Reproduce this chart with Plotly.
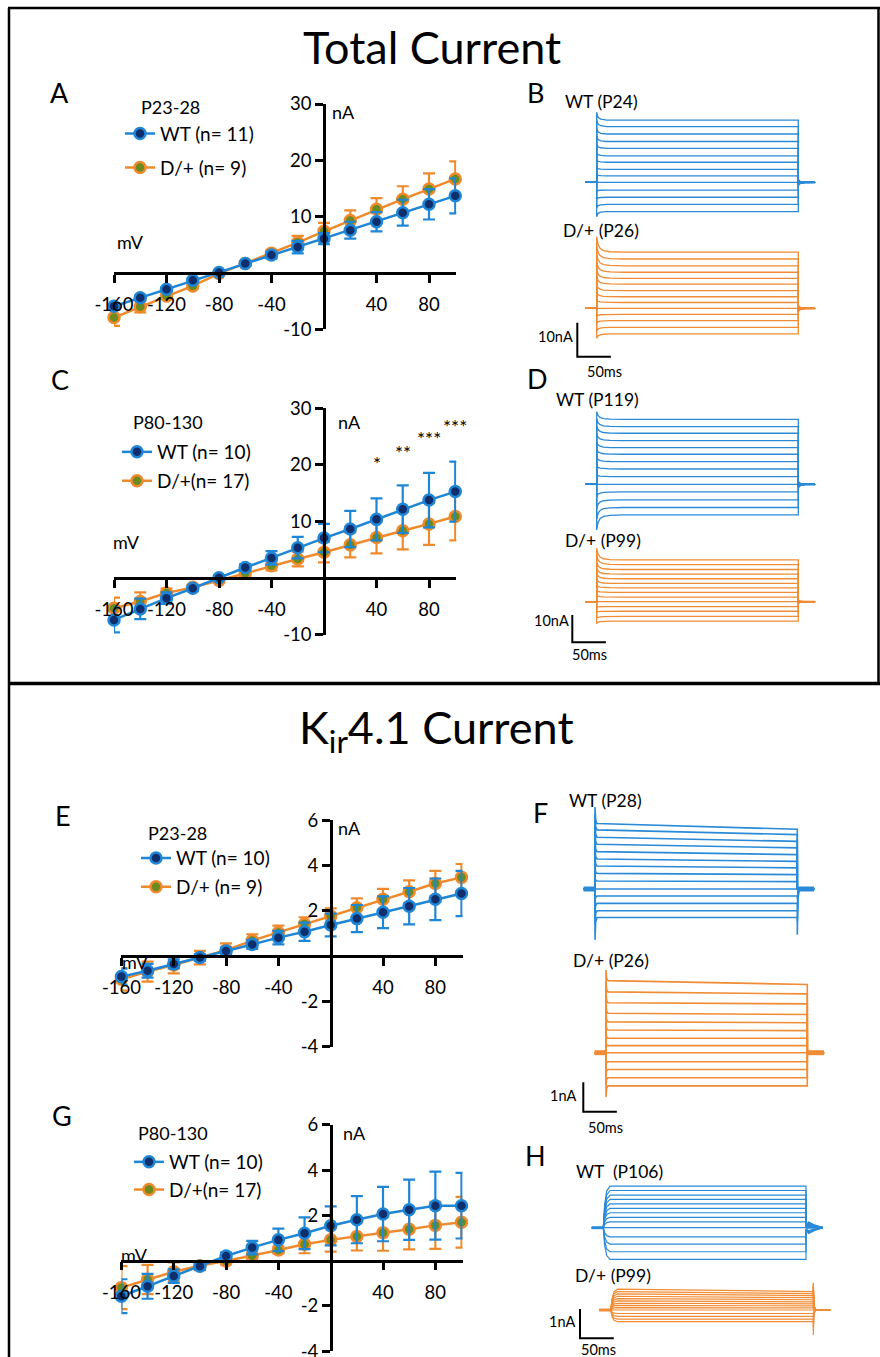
import plotly.graph_objects as go

W, H = 880, 1357

# ---------------- I-V data (mV, nA) ----------------
VOLTAGES = [-160, -140, -120, -100, -80, -60, -40, -20, 0, 20, 40, 60, 80, 100]

A_WT = [-5.9, -4.4, -2.9, -1.3, 0.1, 1.7, 3.2, 4.6, 6.1, 7.6, 9.1, 10.7, 12.2, 13.7]
A_WT_ERR = [0.5, 0.4, 0.4, 0.3, 0.3, 0.4, 0.6, 1.1, 1.0, 1.5, 1.7, 2.3, 2.7, 3.1]
A_DP = [-7.9, -6.0, -4.1, -2.3, -0.1, 1.7, 3.5, 5.4, 7.4, 9.3, 11.3, 13.1, 14.9, 16.7]
A_DP_ERR = [1.5, 1.0, 0.5, 0.4, 0.3, 0.4, 0.6, 1.2, 1.5, 1.8, 2.0, 2.3, 2.8, 3.1]

C_WT = [-7.35, -5.4, -3.5, -1.76, 0.1, 1.9, 3.6, 5.4, 7.1, 8.7, 10.4, 12.2, 13.8, 15.3]
C_WT_ERR = [2.2, 1.8, 1.0, 0.5, 0.4, 0.6, 1.2, 1.9, 2.5, 3.2, 3.7, 4.2, 4.8, 5.3]
C_DP = [-5.3, -4.1, -2.6, -1.6, -0.4, 0.9, 2.2, 3.4, 4.6, 5.9, 7.2, 8.4, 9.6, 10.9]
C_DP_ERR = [1.9, 1.6, 0.8, 0.5, 0.4, 0.5, 0.8, 1.3, 1.8, 2.2, 2.8, 3.3, 3.7, 4.2]

E_WT = [-0.91, -0.65, -0.35, -0.07, 0.22, 0.51, 0.81, 1.07, 1.37, 1.65, 1.93, 2.2, 2.5, 2.76]
E_WT_ERR = [0.35, 0.3, 0.2, 0.15, 0.15, 0.2, 0.3, 0.4, 0.5, 0.6, 0.7, 0.8, 0.92, 1.0]
E_DP = [-1.03, -0.69, -0.4, -0.07, 0.26, 0.68, 1.04, 1.41, 1.76, 2.13, 2.5, 2.84, 3.2, 3.47]
E_DP_ERR = [0.5, 0.44, 0.37, 0.3, 0.3, 0.28, 0.3, 0.3, 0.34, 0.41, 0.46, 0.5, 0.56, 0.59]

G_WT = [-1.57, -1.13, -0.68, -0.24, 0.21, 0.58, 0.92, 1.21, 1.54, 1.81, 2.06, 2.25, 2.43, 2.43]
G_WT_ERR = [0.75, 0.55, 0.3, 0.15, 0.15, 0.3, 0.5, 0.7, 0.86, 1.04, 1.2, 1.33, 1.5, 1.45]
G_DP = [-1.19, -0.83, -0.49, -0.22, -0.01, 0.22, 0.47, 0.73, 0.92, 1.07, 1.24, 1.39, 1.56, 1.7]
G_DP_ERR = [0.95, 0.65, 0.42, 0.2, 0.15, 0.15, 0.15, 0.4, 0.52, 0.62, 0.8, 0.89, 1.04, 1.12]

IV_XTICKS = [-160, -120, -80, -40, 40, 80]
TOTAL_YTICKS = [-10, 10, 20, 30]
KIR_YTICKS = [-4, -2, 2, 4, 6]

STAR_V = [40, 60, 80, 100]
STAR_I = [20.9, 22.9, 25.3, 27.5]
STAR_TEXT = ["*", "**", "***", "***"]

# ---------------- example sweeps (ms, nA relative to holding) ----------------
STEP_MS = 300
PRE_MS = -17
POST_MS = 25
SCALE_MS = 50

# transient shapes (time after edge in ms, remaining fraction)
FAST_T = [0, 1, 3]
FAST_W = [1, 0.2, 0]
HOOK_T = [0, 2, 6, 15]
HOOK_W = [1, 0.35, 0.12, 0]
CAP_T = [0, 2, 5, 10, 20, 40]
CAP_W = [1, 0.5, 0.25, 0.1, 0.03, 0]
ACT_T = [0, 2, 5, 10]
ACT_W = [1, 0.45, 0.12, 0]
TAIL_T = [0, 3, 10]
TAIL_W = [1, 0.3, 0]
SPINDLE_T = [0, 4, 12, 23]
SPINDLE_W = [0.4, 1, 0.5, 0]

B_WT_LEVEL = [-8.6, -6.5, -4.4, -2.3, 0.0, 1.9, 3.8, 5.9, 7.8, 10.0, 12.0, 14.2, 16.4, 18.3]
B_WT_PEAK = [-10.1, -7.5, -5.0, -2.6, 0.0, 2.2, 4.4, 6.7, 8.8, 11.3, 13.6, 16.0, 18.4, 20.6]
B_WT_OFF = [0.8, 0.6, 0.4, 0.2, 0.0, -0.2, -0.3, -0.4, -0.5, -0.6, -0.7, -0.8, -0.9, -1.0]

B_DP_LEVEL = [-7.5, -5.6, -3.6, -1.8, 0.0, 1.7, 3.4, 5.2, 7.1, 8.8, 10.6, 12.5, 14.5, 16.5]
B_DP_PEAK = [-8.8, -6.6, -4.4, -2.2, 0.0, 2.4, 4.6, 6.9, 9.2, 11.4, 13.7, 16.0, 18.5, 21.1]
B_DP_OFF = [0.9, 0.7, 0.5, 0.2, 0.0, -0.2, -0.3, -0.4, -0.5, -0.6, -0.7, -0.8, -0.9, -1.0]

D_WT_LEVEL = [-11.2, -8.5, -5.7, -2.8, 0.0, 2.8, 5.6, 8.3, 11.0, 13.4, 16.0, 18.7, 21.1, 23.8]
D_WT_PEAK = [-16.7, -12.8, -8.9, -4.5, 0.0, 3.6, 6.8, 9.9, 12.9, 15.6, 18.5, 21.4, 24.0, 26.6]
D_WT_OFF = [1.0, 0.8, 0.5, 0.3, 0.0, -0.3, -0.5, -0.6, -0.8, -0.9, -1.0, -1.1, -1.2, -1.3]

D_DP_LEVEL = [-7.1, -5.4, -3.5, -1.8, 0.0, 1.7, 3.4, 5.1, 6.7, 8.4, 10.1, 11.8, 13.6, 15.3]
D_DP_PEAK = [-8.0, -5.9, -3.8, -1.9, 0.0, 2.2, 4.2, 6.2, 8.2, 10.3, 12.4, 14.5, 17.0, 19.6]
D_DP_OFF = [0.6, 0.4, 0.3, 0.1, 0.0, -0.1, -0.2, -0.3, -0.3, -0.4, -0.4, -0.5, -0.5, -0.6]

F_WT_START = [-0.97, -0.74, -0.49, -0.24, 0.0, 0.27, 0.53, 0.78, 1.02, 1.27, 1.52, 1.76, 2.01, 2.23]
F_WT_END = [-0.97, -0.74, -0.49, -0.24, 0.0, 0.25, 0.49, 0.72, 0.94, 1.17, 1.40, 1.62, 1.85, 2.03]
F_WT_PEAK = [-1.73, -1.2, -0.8, -0.4, 0.0, 0.4, 0.75, 1.1, 1.4, 1.7, 2.0, 2.3, 2.55, 2.79]
F_WT_OFF = [-1.56, -1.1, -0.7, -0.35, 0.0, 0.0, 0.0, 0.0, 0.0, 0.0, 0.0, 0.0, 0.0, 0.0]

F_DP_START = [-1.13, -0.85, -0.57, -0.31, 0.0, 0.24, 0.49, 0.77, 1.05, 1.34, 1.70, 2.07, 2.45]
F_DP_END = [-1.13, -0.85, -0.57, -0.31, 0.0, 0.24, 0.49, 0.75, 1.02, 1.30, 1.66, 2.00, 2.32]
F_DP_PEAK = [-1.51, -1.1, -0.75, -0.4, 0.0, 0.35, 0.7, 1.0, 1.35, 1.7, 2.05, 2.45, 2.81]
F_DP_OFF = [0.0, 0.0, 0.0, 0.0, 0.0, 0.0, 0.0, 0.0, 0.0, 0.0, 0.0, 0.0, 0.0]

H_WT_LEVEL = [-1.08, -0.82, -0.56, -0.31, 0.0, 0.20, 0.35, 0.51, 0.66, 0.81, 0.97, 1.11, 1.27, 1.42]
H_WT_PEAK = [0.0, 0.0, 0.0, 0.0, 0.0, 0.0, 0.0, 0.0, 0.0, 0.0, 0.0, 0.0, 0.0, 0.0]
H_WT_OFF = [-0.2, -0.17, -0.14, -0.1, 0.0, 0.05, 0.08, 0.1, 0.12, 0.14, 0.16, 0.17, 0.18, 0.19]

H_DP_START = [-0.40, -0.31, -0.22, -0.12, 0.0, 0.08, 0.16, 0.23, 0.31, 0.39, 0.47, 0.55, 0.63, 0.71]
H_DP_END = [-0.40, -0.31, -0.22, -0.12, 0.0, 0.07, 0.14, 0.21, 0.28, 0.35, 0.42, 0.49, 0.56, 0.63]
H_DP_PEAK = [0.0, 0.0, 0.0, 0.0, 0.0, 0.0, 0.0, 0.0, 0.0, 0.0, 0.0, 0.0, 0.0, 0.0]
H_DP_OFF = [-0.85, -0.6, -0.4, -0.2, 0.0, 0.15, 0.3, 0.45, 0.6, 0.7, 0.8, 0.87, 0.9, 0.93]

# ---------------- styling ----------------
FONT = "Lato, 'Open Sans', sans-serif"
TITLE_FONT = "Lato, sans-serif"
BLUE = "#1f86d6"
ORANGE = "#ef8a2c"
NAVY = "#0e2f6c"
OLIVE = "#6b8a20"
TR_BLUE = "#2a8ad8"
TR_ORANGE = "#f08c35"


def fx(px):
    return px / W


def fy(py):
    return 1 - py / H


fig = go.Figure()
layout = {}
annotations = []


def add_text(text, x, y, size=17, xanchor="center", yanchor="middle", family=FONT):
    annotations.append(dict(text=text, x=fx(x), y=fy(y), xref="paper", yref="paper",
                            showarrow=False, xanchor=xanchor, yanchor=yanchor,
                            font=dict(family=family, size=size, color="black")))


# ---------------- I-V panels ----------------
def iv_panel(idx, x0, y0, pxmv, pxna, yr, yticks, wt, wt_err, dp, dp_err,
             wt_name, dp_name, leg_x, leg_y, gap):
    xr = (-160, 100.8)
    xs = "" if idx == 1 else str(idx)
    layout["xaxis" + xs] = dict(
        domain=[fx(x0 + xr[0] * pxmv), fx(x0 + xr[1] * pxmv)], range=list(xr),
        anchor="free", position=fy(y0), showline=True, linecolor="black", linewidth=2.5,
        ticks="outside", ticklen=8, tickwidth=2.5, tickcolor="black",
        tickvals=IV_XTICKS, ticktext=[str(v) for v in IV_XTICKS], ticklabelstandoff=6,
        ticklabeloverflow="allow",
        showgrid=False, zeroline=False, fixedrange=True, automargin=False,
        tickfont=dict(family=FONT, size=18.5, color="black"))
    layout["yaxis" + xs] = dict(
        domain=[fy(y0 - yr[0] * pxna), fy(y0 - yr[1] * pxna)], range=list(yr),
        anchor="free", position=fx(x0), showline=True, linecolor="black", linewidth=2.5,
        ticks="outside", ticklen=8, tickwidth=2.5, tickcolor="black",
        tickvals=yticks, ticktext=[str(v) for v in yticks], ticklabeloverflow="allow",
        showgrid=False, zeroline=False, fixedrange=True, automargin=False,
        tickfont=dict(family=FONT, size=18.5, color="black"))
    leg = "legend" + xs
    layout[leg] = dict(x=fx(leg_x), y=fy(leg_y), xanchor="left", yanchor="top",
                       bgcolor="rgba(0,0,0,0)", borderwidth=0, tracegroupgap=gap,
                       font=dict(family=FONT, size=19, color="black"),
                       traceorder="grouped")
    for name, ys, err, lc, fc, rank in [(dp_name, dp, dp_err, ORANGE, OLIVE, 2),
                                       (wt_name, wt, wt_err, BLUE, NAVY, 1)]:
        fig.add_trace(go.Scatter(
            x=VOLTAGES, y=ys, name=name, mode="lines+markers",
            xaxis="x" + xs, yaxis="y" + xs, legend=leg, legendrank=rank,
            legendgroup=name + xs,
            line=dict(color=lc, width=2.5),
            marker=dict(size=11, color=fc, line=dict(color=lc, width=2.5)),
            error_y=dict(type="data", array=err, color=lc, thickness=2.2, width=6),
            cliponaxis=False))


iv_panel(1, 324, 273, 1.3125, 5.633, (-10, 30), TOTAL_YTICKS, A_WT, A_WT_ERR, A_DP, A_DP_ERR,
         "WT (n= 11)", "D/+ (n= 9)", 120, 114.7, 6.3)
iv_panel(2, 324, 578.3, 1.3125, 5.667, (-10, 30), TOTAL_YTICKS, C_WT, C_WT_ERR, C_DP, C_DP_ERR,
         "WT (n= 10)", "D/+(n= 17)", 117, 433, 1.2)
iv_panel(3, 330.7, 956, 1.308, 22.66, (-4, 6), KIR_YTICKS, E_WT, E_WT_ERR, E_DP, E_DP_ERR,
         "WT (n= 10)", "D/+ (n= 9)", 136, 839.2, 1)
iv_panel(4, 330.7, 1260.7, 1.308, 22.64, (-4, 6), KIR_YTICKS, G_WT, G_WT_ERR, G_DP, G_DP_ERR,
         "WT (n= 10)", "D/+(n= 17)", 129, 1143, 0)

for v, i, t in zip(STAR_V, STAR_I, STAR_TEXT):
    annotations.append(dict(text=t, x=v, y=i, xref="x2", yref="y2", showarrow=False,
                            yshift=-4, font=dict(family=FONT, size=19, color="black")))


# ---------------- sweep panels ----------------
def sweep_xy(start, end, peaks, offs, on_t, on_w, off_t, off_w):
    xs, ys = [], []
    for i in range(len(start)):
        x = [PRE_MS, 0]
        y = [0, 0]
        for t, w in zip(on_t, on_w):
            x.append(t)
            y.append(start[i] + (peaks[i] - start[i]) * w)
        x.append(STEP_MS)
        y.append(end[i])
        for t, w in zip(off_t, off_w):
            x.append(STEP_MS + t)
            y.append(offs[i] * w)
        x.append(STEP_MS + POST_MS)
        y.append(0)
        xs += x + [None]
        ys += y + [None]
    return xs, ys


trace_ax = [12]


def trace_panel(t0px, basepx, pxms, pxna, box, start, end, peaks, offs, on_t, on_w,
                off_t, off_w, color, width, pre_w, post_w, scalebar=None):
    trace_ax[0] += 1
    n = trace_ax[0]
    l, r, t, b = box
    layout["xaxis%d" % n] = dict(domain=[fx(l), fx(r)],
                                 range=[(l - t0px) / pxms, (r - t0px) / pxms],
                                 visible=False, fixedrange=True, anchor="y%d" % n)
    layout["yaxis%d" % n] = dict(domain=[fy(b), fy(t)],
                                 range=[(basepx - b) / pxna, (basepx - t) / pxna],
                                 visible=False, fixedrange=True, anchor="x%d" % n)
    xs, ys = sweep_xy(start, end, peaks, offs, on_t, on_w, off_t, off_w)
    fig.add_trace(go.Scatter(x=xs, y=ys, mode="lines", line=dict(color=color, width=width),
                             xaxis="x%d" % n, yaxis="y%d" % n, showlegend=False,
                             hoverinfo="skip"))
    fig.add_trace(go.Scatter(x=[PRE_MS, 0], y=[0, 0], mode="lines",
                             line=dict(color=color, width=pre_w),
                             xaxis="x%d" % n, yaxis="y%d" % n, showlegend=False,
                             hoverinfo="skip"))
    fig.add_trace(go.Scatter(x=[STEP_MS, STEP_MS + POST_MS], y=[0, 0], mode="lines",
                             line=dict(color=color, width=post_w),
                             xaxis="x%d" % n, yaxis="y%d" % n, showlegend=False,
                             hoverinfo="skip"))
    if scalebar is not None:
        cx, cy, na = scalebar
        t_sb = (cx - t0px) / pxms
        v_sb = (basepx - cy) / pxna
        fig.add_trace(go.Scatter(x=[t_sb, t_sb, t_sb + SCALE_MS], y=[v_sb + na, v_sb, v_sb],
                                 mode="lines", line=dict(color="black", width=2),
                                 xaxis="x%d" % n, yaxis="y%d" % n, showlegend=False,
                                 hoverinfo="skip"))


pxms_b = 201.6 / STEP_MS
trace_panel(596.7, 182.3, pxms_b, 3.4, (560, 835, 100, 224), B_WT_LEVEL, B_WT_LEVEL,
            B_WT_PEAK, B_WT_OFF, HOOK_T, HOOK_W, TAIL_T, TAIL_W, TR_BLUE, 1.3, 1.5, 2.5)
trace_panel(596.7, 308.3, pxms_b, 3.4, (560, 835, 226, 362), B_DP_LEVEL, B_DP_LEVEL,
            B_DP_PEAK, B_DP_OFF, CAP_T, CAP_W, TAIL_T, TAIL_W, TR_ORANGE, 1.3, 1.5, 2.5,
            scalebar=(577.3, 356.7, 10))
trace_panel(596.7, 484.3, pxms_b, 2.73, (560, 835, 405, 536), D_WT_LEVEL, D_WT_LEVEL,
            D_WT_PEAK, D_WT_OFF, CAP_T, CAP_W, TAIL_T, TAIL_W, TR_BLUE, 1.3, 1.5, 2.5)
trace_panel(596.7, 601.7, pxms_b, 2.73, (560, 835, 538, 648), D_DP_LEVEL, D_DP_LEVEL,
            D_DP_PEAK, D_DP_OFF, CAP_T, CAP_W, TAIL_T, TAIL_W, TR_ORANGE, 1.3, 1.5, 2.0,
            scalebar=(572.3, 642.3, 10))
trace_panel(595, 889, 202.3 / STEP_MS, 29.4, (565, 840, 800, 945), F_WT_START, F_WT_END,
            F_WT_PEAK, F_WT_OFF, FAST_T, FAST_W, FAST_T, FAST_W, TR_BLUE, 1.6, 5, 5)
trace_panel(606, 1052.7, 201.3 / STEP_MS, 29.4, (565, 840, 960, 1116), F_DP_START, F_DP_END,
            F_DP_PEAK, F_DP_OFF, FAST_T, FAST_W, FAST_T, FAST_W, TR_ORANGE, 1.6, 5, 5,
            scalebar=(583.3, 1111.7, 1))
trace_panel(603.3, 1227.7, 202.7 / STEP_MS, 29.3, (565, 840, 1180, 1266), H_WT_LEVEL, H_WT_LEVEL,
            H_WT_PEAK, H_WT_OFF, ACT_T, ACT_W, SPINDLE_T, SPINDLE_W, TR_BLUE, 1.2, 3, 2)
trace_panel(610.7, 1310, 202.6 / STEP_MS, 29.3, (565, 840, 1278, 1342), H_DP_START, H_DP_END,
            H_DP_PEAK, H_DP_OFF, ACT_T, ACT_W, FAST_T, FAST_W, TR_ORANGE, 1.2, 3, 2,
            scalebar=(580, 1338.3, 1))

# ---------------- text ----------------
add_text("Total Current", 431.5, 47, size=45, family=TITLE_FONT)
add_text("K<sub>ir</sub>4.1 Current", 436.5, 730, size=45, family=TITLE_FONT)

for letter, x, y in [("A", 60, 92), ("C", 60, 379), ("E", 63, 815), ("G", 62, 1115),
                     ("B", 535, 93), ("D", 537, 378), ("F", 540, 812), ("H", 535, 1155)]:
    add_text(letter, x, y, size=27)

for txt, x, y in [("P23-28", 170, 106.7), ("nA", 343, 111.7), ("mV", 130, 241.7),
                  ("P80-130", 167.8, 422.3), ("nA", 349, 422), ("mV", 126.7, 541.7),
                  ("P23-28", 177.5, 833.3), ("nA", 349, 828.3), ("mV", 135.8, 961.7),
                  ("P80-130", 172.5, 1133.3), ("nA", 354.5, 1133.3), ("mV", 134, 1255)]:
    add_text(txt, x, y, size=18)

for txt, x, y in [("WT (P24)", 601.5, 101.7), ("D/+ (P26)", 600.5, 230),
                  ("WT (P119)", 597.5, 400), ("D/+ (P99)", 602.8, 540),
                  ("WT (P28)", 605, 800), ("D/+ (P26)", 611.3, 960),
                  ("WT  (P106)", 619, 1171.7), ("D/+ (P99)", 613.3, 1275)]:
    add_text(txt, x, y, size=17.5)

for txt, x, y in [("10nA", 555, 336.7), ("50ms", 604, 371), ("10nA", 551, 620), ("50ms", 589, 654),
                  ("1nA", 563, 1095), ("50ms", 605, 1127), ("1nA", 562.7, 1321), ("50ms", 598.3, 1349)]:
    add_text(txt, x, y, size=14.5)

# ---------------- frame ----------------
shapes = []
for x0, y0, x1, y1, w in [(8, 8, 880, 8, 2.5), (9, 8, 9, H, 2.5), (878.5, 8, 878.5, 683, 2.5),
                          (8, 683.5, 880, 683.5, 3.5)]:
    shapes.append(dict(type="line", xref="paper", yref="paper", x0=fx(x0), y0=fy(y0),
                       x1=fx(x1), y1=fy(y1), line=dict(color="black", width=w)))

fig.update_layout(width=W, height=H,
                  margin=dict(l=0, r=0, t=0, b=0, pad=0, autoexpand=False),
                  paper_bgcolor="white", plot_bgcolor="rgba(0,0,0,0)",
                  annotations=annotations, shapes=shapes, hovermode=False, **layout)

fig.write_html("out.html", config={"displayModeBar": False},
               post_script="document.body.style.margin='0';")
